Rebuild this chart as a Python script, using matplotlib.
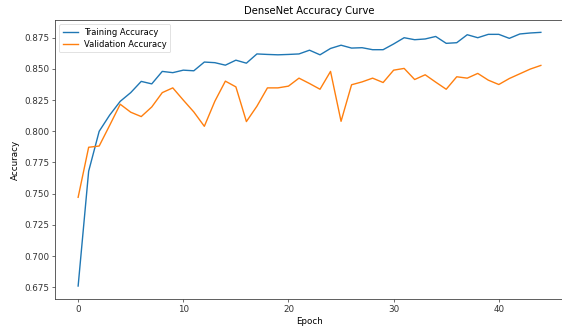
import matplotlib
matplotlib.use("Agg")
import matplotlib.pyplot as plt
import numpy as np

epochs = list(range(45))
train_acc = [0.676, 0.768, 0.800, 0.813, 0.824, 0.831, 0.840, 0.838, 0.848, 0.847,
             0.849, 0.8485, 0.8555, 0.855, 0.853, 0.857, 0.8546, 0.862, 0.8616, 0.8613,
             0.8616, 0.862, 0.865, 0.8613, 0.8664, 0.869, 0.8667, 0.867, 0.8654, 0.8654,
             0.870, 0.875, 0.8734, 0.874, 0.876, 0.8705, 0.871, 0.8774, 0.875, 0.8777,
             0.8777, 0.8745, 0.878, 0.8788, 0.8793]
val_acc = [0.7471, 0.7872, 0.7882, 0.8048, 0.8217, 0.8153, 0.8118, 0.8195, 0.831, 0.8348,
           0.825, 0.8155, 0.804, 0.8241, 0.8402, 0.8356, 0.8078, 0.8201, 0.8348, 0.8348,
           0.8362, 0.8426, 0.8383, 0.8337, 0.848, 0.808, 0.8373, 0.8396, 0.8426, 0.8391,
           0.849, 0.8504, 0.8415, 0.8453, 0.8394, 0.8337, 0.8437, 0.8426, 0.8464, 0.841,
           0.8375, 0.8423, 0.8461, 0.8499, 0.8528]

W, H = 562, 327
fig = plt.figure(figsize=(W / 100, H / 100), dpi=100)
ax = fig.add_axes([55 / W, 1 - 299 / H, (564 - 55) / W, (299 - 20) / H])

fs = 6.3
ax.plot(epochs, train_acc, color="#1f77b4", lw=1.0, label="Training Accuracy")
ax.plot(epochs, val_acc, color="#ff7f0e", lw=1.0, label="Validation Accuracy")
ax.set_xlim(-2.2, 46.2)
ax.set_ylim(0.6656, 0.8892)
ax.set_xticks([0, 10, 20, 30, 40])
ax.set_yticks(np.arange(0.675, 0.8751, 0.025))
ax.yaxis.set_major_formatter(matplotlib.ticker.FormatStrFormatter("%.3f"))
ax.tick_params(labelsize=fs, length=2.2, width=0.5, pad=2, colors="#333333")
for s in ax.spines.values():
    s.set_linewidth(0.6)
    s.set_color("#444444")
ax.set_title("DenseNet Accuracy Curve", fontsize=7.2, pad=4)
ax.set_xlabel("Epoch", fontsize=fs, labelpad=2)
ax.set_ylabel("Accuracy", fontsize=fs, labelpad=3)
leg = ax.legend(loc="upper left", fontsize=6.0, handlelength=1.8, borderpad=0.4,
                labelspacing=0.4, frameon=True)
leg.get_frame().set_linewidth(0.5)

fig.savefig("out.png", dpi=100)
